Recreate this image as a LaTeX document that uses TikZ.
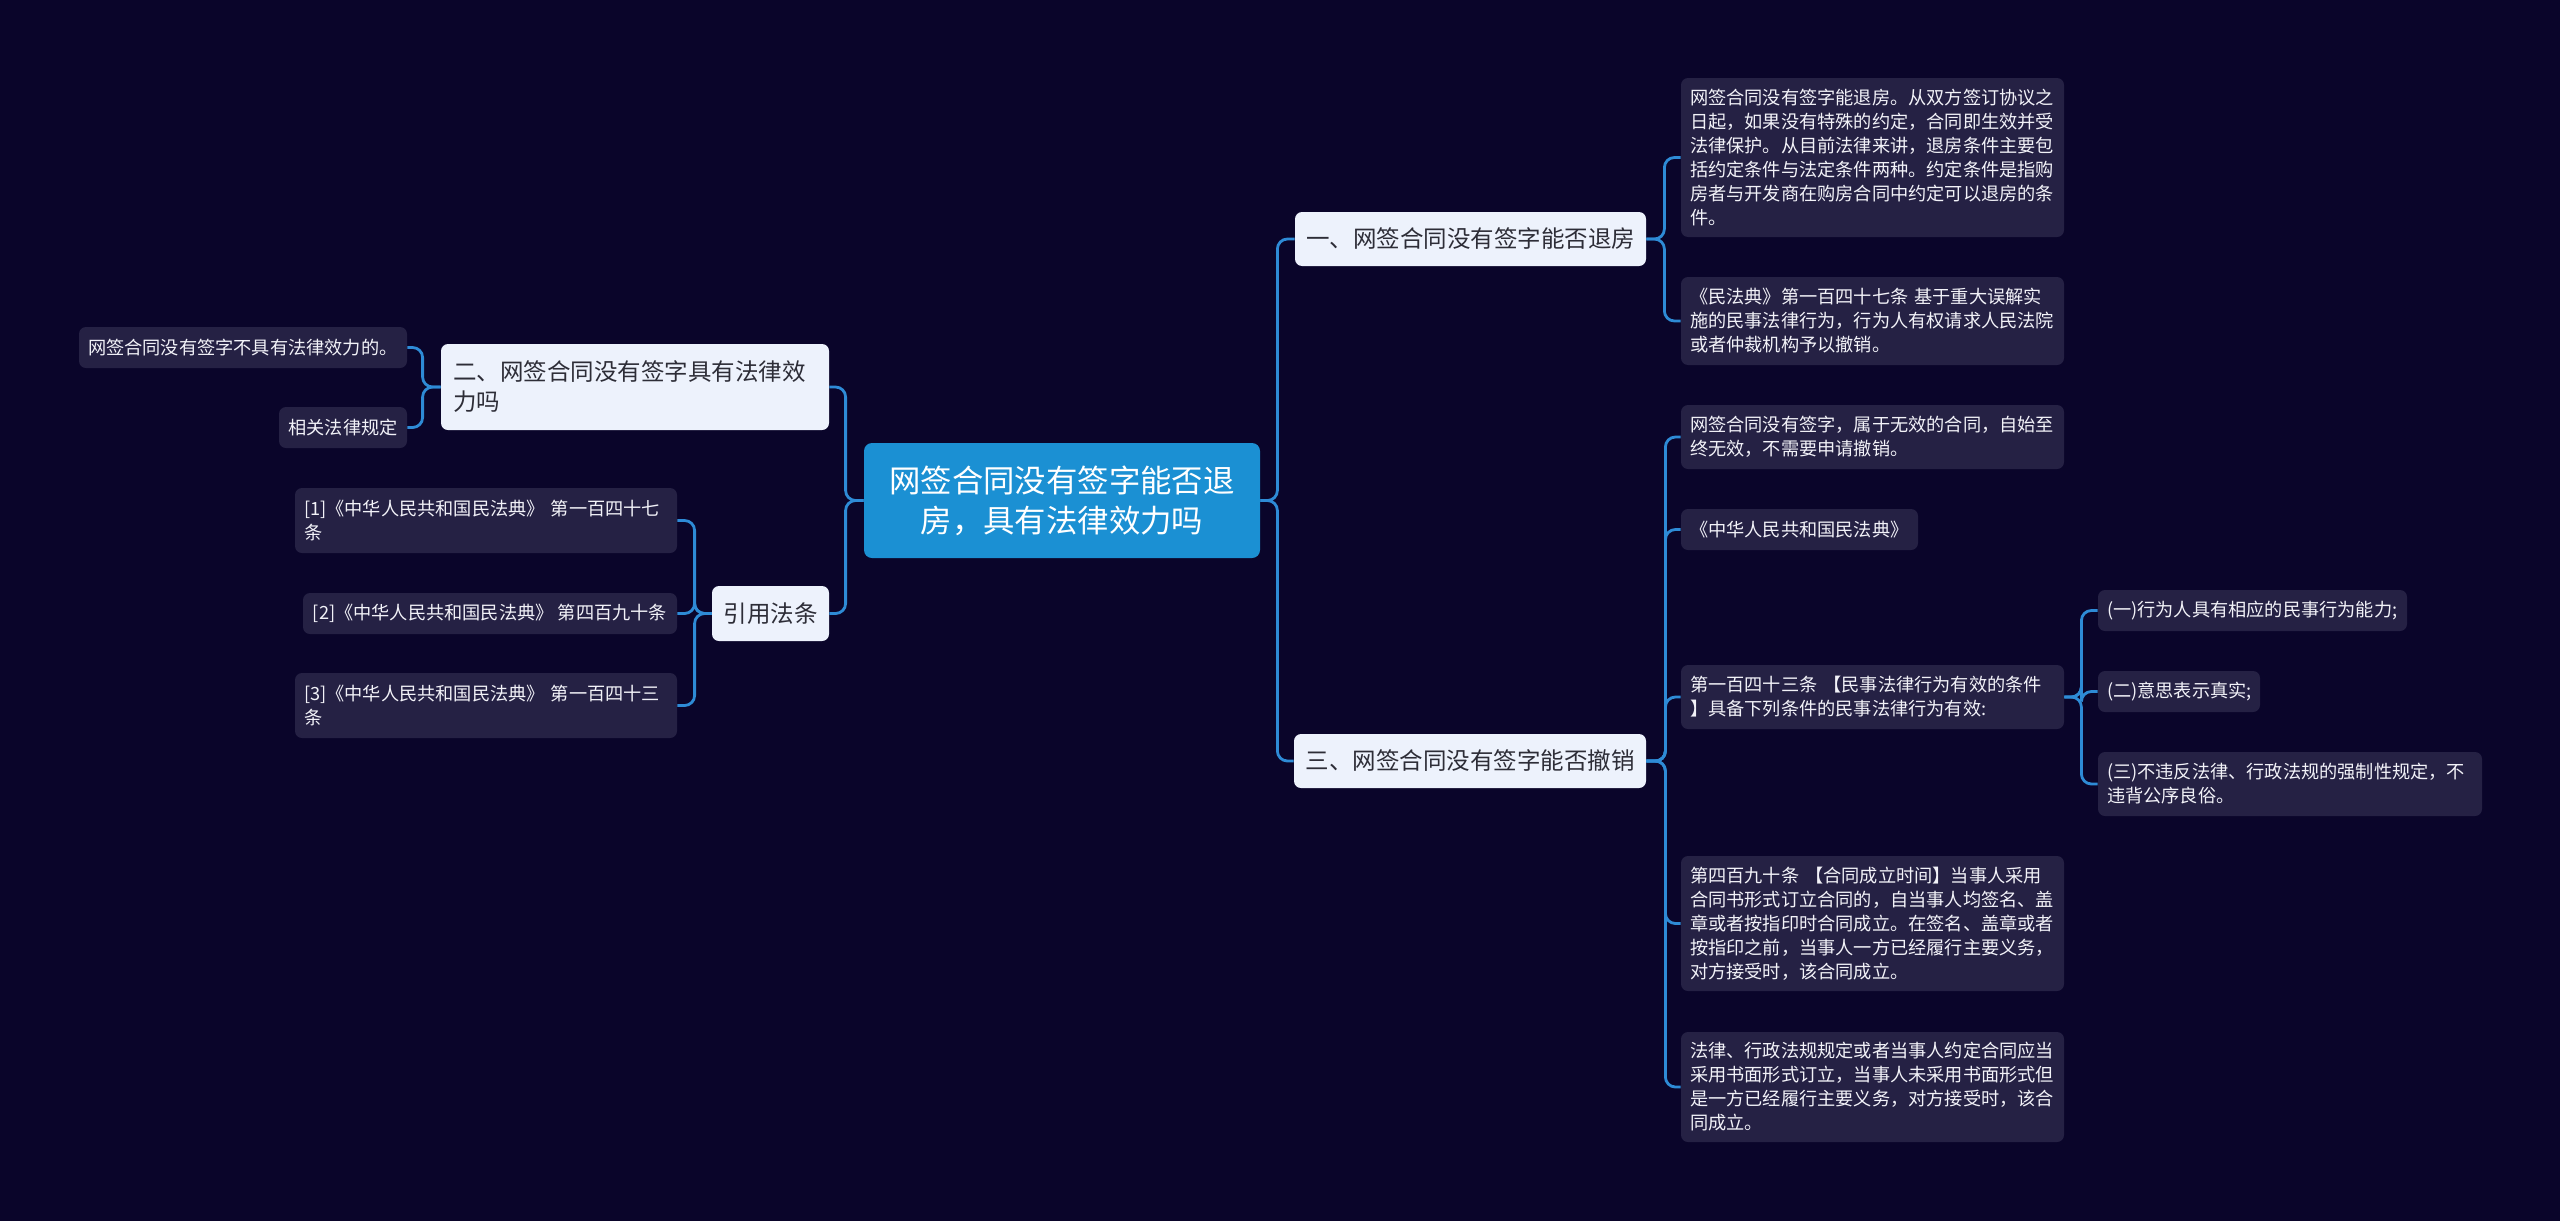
\documentclass[tikz,border=0pt]{standalone}
\usepackage{fontspec}
\setmainfont{Noto Sans CJK SC}
\definecolor{bgc}{RGB}{10,5,42}
\definecolor{leafc}{RGB}{37,33,68}
\definecolor{leaftext}{RGB}{242,242,248}
\definecolor{lvlc}{RGB}{237,242,252}
\definecolor{lvltext}{RGB}{45,45,55}
\definecolor{ctrc}{RGB}{27,144,211}
\definecolor{linec}{RGB}{46,139,214}
\begin{document}
\begin{tikzpicture}[x=0.5pt,y=-0.5pt,
  leaf/.style={fill=leafc, rounded corners=3.5pt, text=leaftext, font=\fontsize{9.1}{12}\selectfont, align=left, inner sep=0pt},
  lvl/.style={fill=lvlc, rounded corners=3.5pt, text=lvltext, font=\fontsize{11.75}{15}\selectfont, align=center, inner sep=0pt},
  ctrbox/.style={fill=ctrc, rounded corners=4pt, text=white, font=\fontsize{15.7}{20}\selectfont, align=center, inner sep=0pt, minimum width=198pt, minimum height=57.5pt},
  conn/.style={draw=linec, line width=1.4pt, rounded corners=5pt}
]
\fill[bgc] (0,0) rectangle (2560,1221);
\useasboundingbox (0,0) rectangle (2560,1221);

% centre
\node[ctrbox] (ctr) at (1062,500.5) {网签合同没有签字能否退\\房，具有法律效力吗};

% level 1
\node[lvl, minimum width=175.5pt, minimum height=27pt] (A) at (1470.5,239) {一、网签合同没有签字能否退房};
\node[lvl, minimum width=176pt, minimum height=27pt] (C) at (1470,761) {三、网签合同没有签字能否撤销};
\node[lvl, align=left, minimum width=194pt, minimum height=43pt, text width=182pt] (B) at (635,387) {二、网签合同没有签字具有法律效\\力吗};
\node[lvl, minimum width=58.5pt, minimum height=27.5pt] (ref) at (770.5,613.5) {引用法条};

% A children
\node[leaf, minimum width=191.5pt, minimum height=79.5pt, text width=182.5pt] (A1) at (1872.5,157.5)
 {网签合同没有签字能退房。从双方签订协议之\\日起，如果没有特殊的约定，合同即生效并受\\法律保护。从目前法律来讲，退房条件主要包\\括约定条件与法定条件两种。约定条件是指购\\房者与开发商在购房合同中约定可以退房的条\\件。};
\node[leaf, minimum width=191.5pt, minimum height=44pt, text width=182.5pt] (A2) at (1872.5,321)
 {《民法典》第一百四十七条 基于重大误解实\\施的民事法律行为，行为人有权请求人民法院\\或者仲裁机构予以撤销。};

% C children
\node[leaf, minimum width=191.5pt, minimum height=32pt, text width=182.5pt] (C1) at (1872.5,437)
 {网签合同没有签字，属于无效的合同，自始至\\终无效，不需要申请撤销。};
\node[leaf, minimum width=118.5pt, minimum height=20.5pt, text width=109.5pt] (C2) at (1799.5,529.5)
 {《中华人民共和国民法典》};
\node[leaf, minimum width=191.5pt, minimum height=32pt, text width=182.5pt] (C3) at (1872.5,697)
 {第一百四十三条 【民事法律行为有效的条件\\】具备下列条件的民事法律行为有效:};
\node[leaf, minimum width=191.5pt, minimum height=67.5pt, text width=182.5pt] (C4) at (1872.5,923.5)
 {第四百九十条 【合同成立时间】当事人采用\\合同书形式订立合同的，自当事人均签名、盖\\章或者按指印时合同成立。在签名、盖章或者\\按指印之前，当事人一方已经履行主要义务，\\对方接受时，该合同成立。};
\node[leaf, minimum width=191.5pt, minimum height=55pt, text width=182.5pt] (C5) at (1872.5,1087)
 {法律、行政法规规定或者当事人约定合同应当\\采用书面形式订立，当事人未采用书面形式但\\是一方已经履行主要义务，对方接受时，该合\\同成立。};

% C3 children
\node[leaf, minimum width=154.5pt, minimum height=20.5pt, text width=145.5pt] (D1) at (2252.5,610.5)
 {(一)行为人具有相应的民事行为能力;};
\node[leaf, minimum width=81pt, minimum height=20.5pt, text width=72pt] (D2) at (2179,691.5)
 {(二)意思表示真实;};
\node[leaf, minimum width=192pt, minimum height=32pt, text width=183pt] (D3) at (2290,784)
 {(三)不违反法律、行政法规的强制性规定，不\\违背公序良俗。};

% B children
\node[leaf, minimum width=164pt, minimum height=20.5pt, text width=155pt] (B1) at (243,347.5)
 {网签合同没有签字不具有法律效力的。};
\node[leaf, align=center, minimum width=64pt, minimum height=20.5pt] (B2) at (343,427.5)
 {相关法律规定};

% ref children
\node[leaf, minimum width=191pt, minimum height=32.5pt, text width=182pt] (R1) at (486,520.5)
 {[1]《中华人民共和国民法典》 第一百四十七\\条};
\node[leaf, minimum width=187pt, minimum height=20.5pt] (R2) at (490,613.5)
 {[2]《中华人民共和国民法典》 第四百九十条};
\node[leaf, minimum width=191pt, minimum height=32.5pt, text width=182pt] (R3) at (486,705.5)
 {[3]《中华人民共和国民法典》 第一百四十三\\条};

% connectors
\draw[conn] (ctr.east) -- ++(17,0) |- (A.west);
\draw[conn] (ctr.east) -- ++(17,0) |- (C.west);
\draw[conn] (ctr.west) -- ++(-18,0) |- (B.east);
\draw[conn] (ctr.west) -- ++(-18,0) |- (ref.east);

\draw[conn] (A.east) -- ++(18,0) |- (A1.west);
\draw[conn] (A.east) -- ++(18,0) |- (A2.west);

\draw[conn] (C.east) -- ++(19,0) |- (C1.west);
\draw[conn] (C.east) -- ++(19,0) |- (C2.west);
\draw[conn] (C.east) -- ++(19,0) |- (C3.west);
\draw[conn] (C.east) -- ++(19,0) |- (C4.west);
\draw[conn] (C.east) -- ++(19,0) |- (C5.west);

\draw[conn] (C3.east) -- ++(17,0) |- (D1.west);
\draw[conn] (C3.east) -- ++(17,0) |- (D2.west);
\draw[conn] (C3.east) -- ++(17,0) |- (D3.west);

\draw[conn] (B.west) -- ++(-18,0) |- (B1.east);
\draw[conn] (B.west) -- ++(-18,0) |- (B2.east);

\draw[conn] (ref.west) -- ++(-17,0) |- (R1.east);
\draw[conn] (ref.west) -- ++(-17,0) |- (R2.east);
\draw[conn] (ref.west) -- ++(-17,0) |- (R3.east);
\end{tikzpicture}
\end{document}
